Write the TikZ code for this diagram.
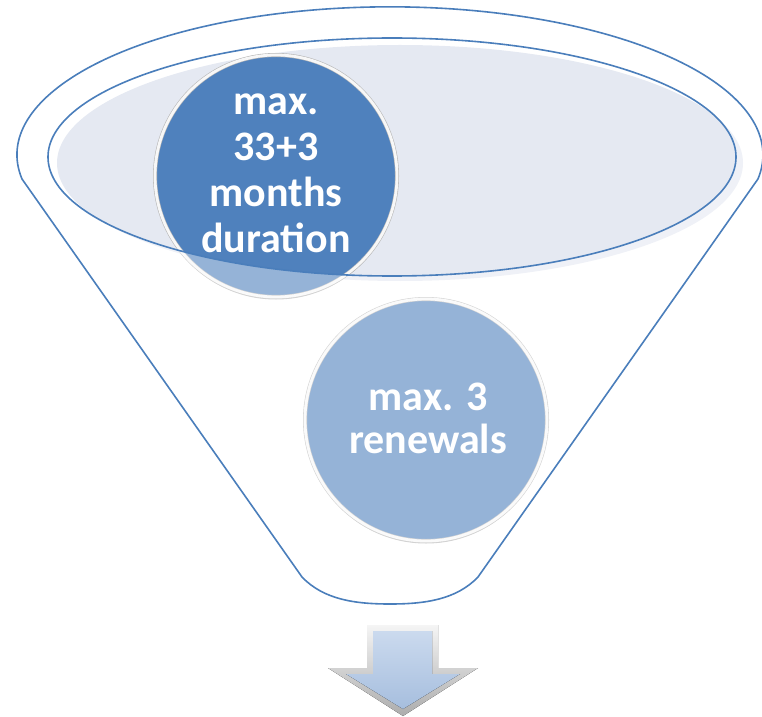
\documentclass[tikz,border=0pt]{standalone}
\usepackage{fontspec}
\setmainfont{Carlito}
\usetikzlibrary{shadows}

\definecolor{funnelline}{HTML}{4A7EBB}
\definecolor{mouthfill}{HTML}{E5E9F2}
\definecolor{bubbleblue}{HTML}{4F81BD}
\definecolor{arrowtop}{HTML}{CBDAEE}
\definecolor{arrowbot}{HTML}{A6BEDE}

% outer outline of the funnel: rim arc, two sides and the rounded spout
\newcommand\funnelshape{(22,537) arc[start angle=189.4, end angle=-9.4, x radius=373, y radius=148]
  -- (478,139) .. controls (456,116) and (424,112) .. (390,112)
  .. controls (356,112) and (324,116) .. (302,139) -- cycle}

\tikzset{
  outline/.style={draw=funnelline, line width=1.6pt, line join=round},
  bubble/.style={circle, minimum size=242pt, inner sep=0pt, fill=bubbleblue,
    draw=gray!55, line width=0.6pt, double=white!94!gray, double distance=2.8pt,
    drop shadow={shadow xshift=0pt, shadow yshift=-2.5pt, opacity=0.3, fill=black}},
  bubbletext/.style={text=white, align=center, inner sep=0pt},
}

\begin{document}
\begin{tikzpicture}[x=1pt, y=1pt]
\useasboundingbox (0,0) rectangle (762,716);

% soft fill of the funnel mouth
\fill[mouthfill] (400,553) ellipse [x radius=343, y radius=118];

% the two bubbles
\node[bubble] (b1) at (276,540) {};
\node[bubble] (b2) at (426,296) {};

% translucent front of the funnel body (everything outside the mouth)
\fill[white, opacity=0.4, even odd rule] \funnelshape (392,559) ellipse [x radius=344, y radius=119];

% outlines
\draw[outline] \funnelshape;
\draw[outline] (392,559) ellipse [x radius=344, y radius=119];

% labels
\node[bubbletext, font=\fontsize{42}{45.7}\selectfont\bfseries] (t1) at (276,542.7) {max.\\33+3\\months\\duration};
\node[bubbletext, font=\fontsize{42}{43}\selectfont\bfseries] (t2) at (428,298) {max. 3\\renewals};

% bevelled down arrow below the spout
\fill[top color=white!92!gray, bottom color=gray!65]
  (367,91) -- (438,91) -- (438,48) -- (478,48) -- (403,0) -- (328,48) -- (367,48) -- cycle;
\fill[top color=arrowtop, bottom color=arrowbot]
  (373,85) -- (432,85) -- (432,42) -- (460,42) -- (403,7) -- (346,42) -- (373,42) -- cycle;
\end{tikzpicture}
\end{document}
